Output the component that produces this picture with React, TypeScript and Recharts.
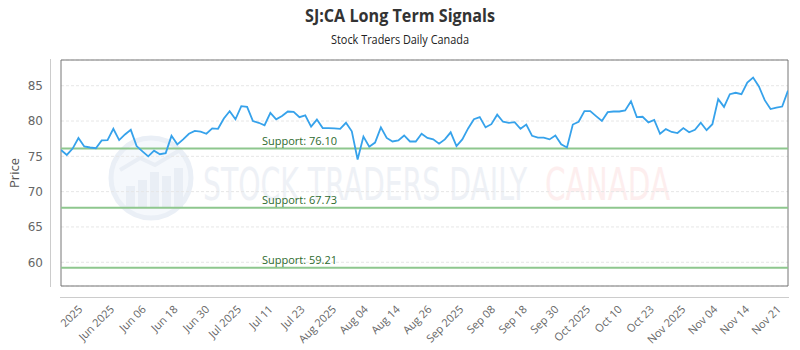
import React from 'react';
import { LineChart, Line, XAxis, YAxis, CartesianGrid, ReferenceLine, ReferenceArea } from 'recharts';

const prices: number[] = [
  75.9, 75.2, 76.1, 77.6, 76.4, 76.25, 76.15, 77.25, 77.3, 78.9, 77.3, 78.1, 78.75, 76.45, 75.7, 75.0,
  75.8, 75.3, 75.45, 77.9, 76.7, 77.4, 78.2, 78.6, 78.5, 78.2, 78.95, 78.9, 80.35, 81.4, 80.25, 82.1,
  82.0, 80.0, 79.75, 79.4, 81.15, 80.25, 80.7, 81.35, 81.3, 80.55, 80.8, 79.2, 80.2, 79.0, 79.0, 78.95,
  78.9, 79.75, 78.55, 74.55, 77.8, 76.35, 76.95, 79.1, 77.6, 77.1, 77.25, 77.95, 77.1, 77.1, 78.2, 77.6,
  77.4, 76.8, 77.4, 78.4, 76.45, 77.4, 78.95, 80.25, 80.55, 79.1, 79.55, 80.9, 79.9, 79.75, 79.85, 78.9,
  79.5, 77.9, 77.65, 77.65, 77.4, 77.95, 76.7, 76.25, 79.5, 79.9, 81.4, 81.4, 80.7, 80.0, 81.25, 81.35,
  81.35, 81.5, 82.8, 80.55, 80.6, 79.8, 80.15, 78.2, 78.85, 78.45, 78.3, 79.0, 78.4, 78.75, 79.75, 78.7,
  79.55, 83.1, 82.0, 83.8, 84.0, 83.8, 85.45, 86.15, 84.9, 82.95, 81.7, 81.9, 82.05, 84.3,
];

const tickLabels: string[] = [
  '2025', 'Jun 2025', 'Jun 06', 'Jun 18', 'Jun 30', 'Jul 2025', 'Jul 11', 'Jul 23', 'Aug 2025', 'Aug 04',
  'Aug 14', 'Aug 26', 'Sep 2025', 'Sep 08', 'Sep 18', 'Sep 30', 'Oct 2025', 'Oct 10', 'Oct 23', 'Nov 2025',
  'Nov 04', 'Nov 14', 'Nov 21',
];
const tickPositions: number[] = [
  3.8, 9.26, 14.72, 20.18, 25.64, 31.1, 36.55, 42.01, 47.47, 52.93, 58.39, 63.85, 69.31, 74.77, 80.23,
  85.69, 91.14, 96.6, 102.06, 107.52, 112.98, 118.44, 123.9,
];

const yTicks: number[] = [60, 65, 70, 75, 80, 85];
const yDomain: [number, number] = [56.64, 88.64];
const supports: number[] = [76.1, 67.73, 59.21];

const data = prices.map((price, i) => ({ i, price }));

const XTick = (props: any) => {
  const { x, y, payload } = props;
  const idx = tickPositions.indexOf(payload.value);
  const label = idx >= 0 ? tickLabels[idx] : '';
  return (
    <text
      x={x}
      y={y + 16}
      transform={`rotate(-45, ${x}, ${y + 16})`}
      textAnchor="end"
      fontSize={11}
      fill="#666"
      fontFamily="'Open Sans', sans-serif"
    >
      {label}
    </text>
  );
};

const SupportLabel = (value: number) => (props: any) => {
  const { viewBox } = props;
  return (
    <text
      x={viewBox.x + 201}
      y={viewBox.y - 4}
      fontSize={11}
      fill="#2e6b2e"
      fontFamily="'Open Sans', sans-serif"
    >
      {`Support: ${value.toFixed(2)}`}
    </text>
  );
};

export default function App() {
  return (
    <div style={{ position: 'absolute', left: 0, top: 0, width: 800, height: 350, background: '#fff' }}>
      <svg width={800} height={350} style={{ position: 'absolute', left: 0, top: 0 }}>
        <text x={400} y={22} textAnchor="middle" fontSize={17} fontWeight="bold" fill="#333"
          fontFamily="'Open Sans', sans-serif" textLength={190} lengthAdjust="spacingAndGlyphs">
          SJ:CA Long Term Signals
        </text>
        <text x={400} y={44} textAnchor="middle" fontSize={12} fill="#222"
          fontFamily="'Open Sans', sans-serif" textLength={138} lengthAdjust="spacingAndGlyphs">
          Stock Traders Daily Canada
        </text>
        <g>
          <circle cx={151} cy={178} r={40} fill="#f5f8fc" stroke="#eaeff6" strokeWidth={5} />
          <rect x={126} y={186} width={9} height={22} fill="#e9eef5" />
          <rect x={138} y={180} width={9} height={28} fill="#e9eef5" />
          <rect x={150} y={172} width={9} height={36} fill="#e9eef5" />
          <rect x={162} y={176} width={9} height={32} fill="#e9eef5" />
          <rect x={174} y={168} width={9} height={40} fill="#e9eef5" />
          <polyline points="120,170 140,158 155,165 180,150" fill="none" stroke="#e9eef5" strokeWidth={4} />
          <text x={203} y={200} fontSize={44} fill="#eef1f6" fontFamily="'Liberation Sans Narrow', 'DejaVu Sans Condensed', sans-serif"
            textLength={324} lengthAdjust="spacingAndGlyphs">
            STOCK TRADERS DAILY
          </text>
          <text x={545} y={200} fontSize={44} fill="#fdeeee" fontFamily="'Liberation Sans Narrow', 'DejaVu Sans Condensed', sans-serif"
            textLength={125} lengthAdjust="spacingAndGlyphs">
            CANADA
          </text>
        </g>
        <line x1={50.5} y1={59} x2={50.5} y2={287} stroke="#ccc" strokeWidth={1} />
        <line x1={60} y1={297.5} x2={789} y2={297.5} stroke="#ccc" strokeWidth={1} />
      </svg>
      <div style={{ position: 'absolute', left: 0, top: 0 }}>
        <LineChart width={800} height={350} data={data} margin={{ top: 60, right: 12, bottom: 14, left: 11 }}>
          <CartesianGrid vertical={false} stroke="#e6e6e6" strokeDasharray="3 2" />
          <XAxis
            type="number"
            dataKey="i"
            domain={[0, prices.length - 1]}
            ticks={tickPositions}
            interval={0}
            tick={<XTick />}
            axisLine={false}
            tickLine={false}
            height={50}
            allowDataOverflow
          />
          <YAxis
            type="number"
            domain={yDomain}
            ticks={yTicks}
            width={50}
            axisLine={false}
            tickLine={false}
            tickMargin={12}
            allowDataOverflow
            tick={{ fontSize: 12, fill: '#666', fontFamily: "'DejaVu Sans', sans-serif" }}
            label={{ value: 'Price', angle: -90, position: 'insideLeft', offset: 3, style: { fontSize: 13, fill: '#555', fontFamily: "'Open Sans', sans-serif", textAnchor: 'middle' } }}
          />
          {supports.map((s) => (
            <ReferenceLine key={s} y={s} stroke="#8ec78e" strokeWidth={2} label={SupportLabel(s)} />
          ))}
          <ReferenceArea x1={0} x2={prices.length - 1} y1={yDomain[0]} y2={yDomain[1]} fill="none" stroke="#777" strokeWidth={1} ifOverflow="visible" />
          <Line type="linear" dataKey="price" stroke="#36a2eb" strokeWidth={1.8} dot={false} isAnimationActive={false} />
        </LineChart>
      </div>
    </div>
  );
}
